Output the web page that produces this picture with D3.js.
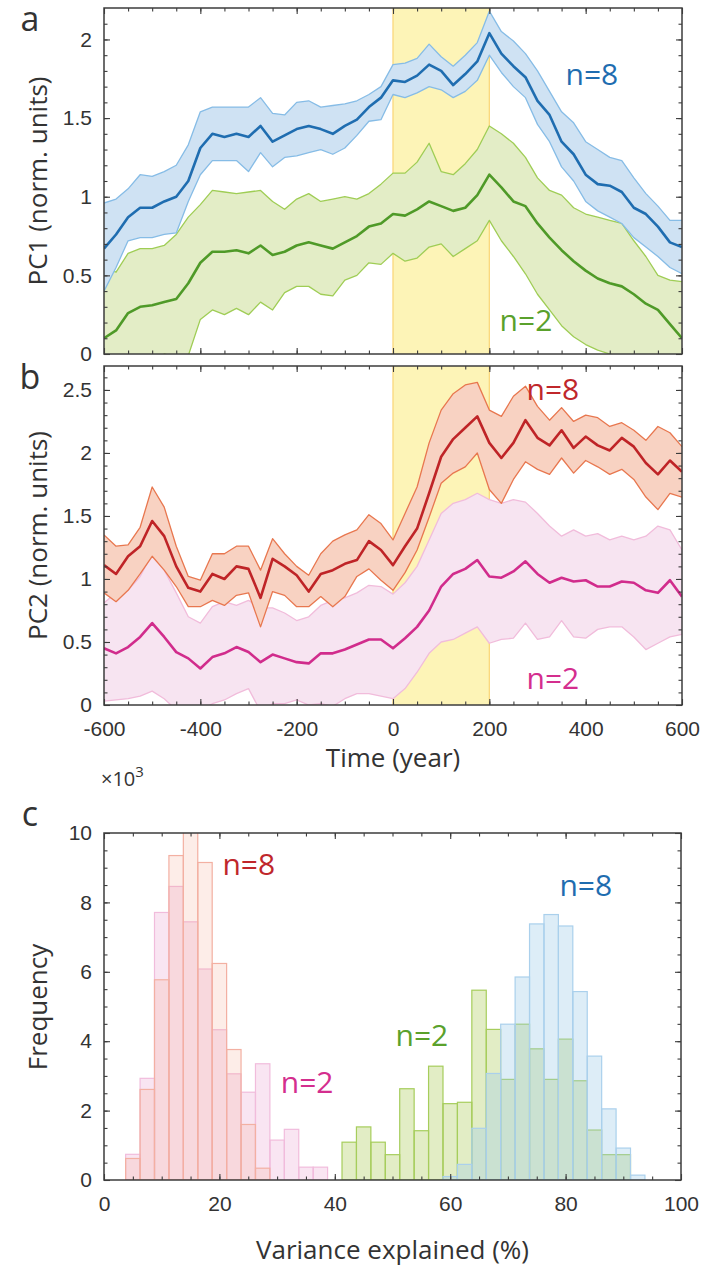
<!DOCTYPE html>
<html>
<head>
<meta charset="utf-8">
<script src="https://cdn.jsdelivr.net/npm/d3@7"></script>
<style>
  body { margin: 0; background: #fff; }
  svg { display: block; font-family: "Open Sans", "Noto Sans", sans-serif; }
  .mult { font-size: 20px; }
  .mult .sup { font-size: 15px; }
</style>
</head>
<body>
<script>
// sample times (year)
var years = [-600,-575,-550,-525,-500,-475,-450,-425,-400,-375,-350,-325,-300,-275,-250,-225,-200,-175,-150,-125,-100,-75,-50,-25,0,
  25,50,75,100,125,150,175,200,225,250,275,300,325,350,375,400,425,450,475,500,525,550,575,600];

// PC1, n=8
var pc1n8Mean = [0.67,0.76,0.87,0.93,0.93,0.97,1.00,1.10,1.31,1.40,1.38,1.40,1.38,1.45,1.35,1.39,1.43,1.45,1.43,1.40,1.45,1.49,1.57,1.63,1.74,
  1.73,1.77,1.84,1.80,1.71,1.78,1.86,2.04,1.91,1.83,1.76,1.61,1.52,1.35,1.27,1.14,1.08,1.07,1.03,0.93,0.89,0.81,0.71,0.68];
var pc1n8Upper = [0.96,0.985,1.05,1.14,1.13,1.16,1.20,1.33,1.54,1.57,1.57,1.57,1.57,1.63,1.53,1.52,1.60,1.61,1.57,1.58,1.59,1.61,1.65,1.70,1.84,
  1.85,1.88,1.97,1.89,1.83,1.90,1.98,2.18,2.05,1.99,1.91,1.80,1.67,1.54,1.47,1.35,1.30,1.25,1.23,1.12,1.02,0.94,0.85,0.85];
var pc1n8Lower = [0.40,0.55,0.72,0.74,0.74,0.76,0.77,0.97,1.14,1.23,1.23,1.23,1.16,1.28,1.19,1.25,1.26,1.28,1.30,1.27,1.31,1.39,1.48,1.49,1.65,
  1.63,1.66,1.70,1.68,1.63,1.67,1.74,1.90,1.79,1.70,1.63,1.46,1.35,1.19,1.10,0.97,0.91,0.87,0.83,0.74,0.68,0.62,0.55,0.51];

// PC1, n=2
var pc1n2Mean = [0.10,0.15,0.26,0.30,0.31,0.33,0.35,0.45,0.58,0.65,0.65,0.66,0.64,0.69,0.63,0.65,0.69,0.71,0.69,0.67,0.71,0.75,0.81,0.83,0.89,
  0.88,0.92,0.97,0.94,0.91,0.93,1.01,1.14,1.06,0.97,0.94,0.83,0.74,0.66,0.59,0.53,0.48,0.45,0.43,0.38,0.32,0.28,0.19,0.10];
var pc1n2Upper = [0.55,0.52,0.64,0.67,0.67,0.69,0.76,0.87,0.95,1.04,1.03,1.02,1.03,1.04,0.97,0.92,0.985,1.02,0.97,0.985,1.00,0.985,1.02,1.08,1.15,
  1.15,1.22,1.34,1.16,1.14,1.21,1.30,1.45,1.40,1.34,1.25,1.12,1.04,1.01,0.93,0.89,0.87,0.85,0.83,0.72,0.62,0.50,0.47,0.46];
var pc1n2Lower = [-0.35,-0.30,-0.22,-0.15,-0.10,0.00,-0.02,-0.01,0.22,0.28,0.25,0.29,0.25,0.33,0.28,0.39,0.43,0.43,0.38,0.37,0.47,0.50,0.58,0.57,0.64,
  0.59,0.61,0.68,0.70,0.62,0.67,0.72,0.85,0.72,0.62,0.51,0.38,0.28,0.18,0.11,0.06,0.025,0.0,-0.02,-0.05,-0.10,-0.15,-0.20,-0.25];

// PC2, n=8
var pc2n8Mean = [1.11,1.04,1.18,1.26,1.46,1.34,1.10,0.93,0.90,1.04,1.00,1.10,1.08,0.85,1.16,1.10,1.03,0.90,1.04,1.07,1.12,1.15,1.30,1.23,1.11,
  1.26,1.40,1.68,1.97,2.11,2.20,2.29,2.08,1.96,2.08,2.26,2.12,2.06,2.18,2.04,2.13,2.06,2.02,2.12,2.05,1.92,1.83,1.94,1.85];
var pc2n8Upper = [1.35,1.26,1.27,1.41,1.73,1.57,1.26,1.02,0.99,1.20,1.20,1.26,1.26,1.07,1.32,1.20,1.10,1.03,1.20,1.30,1.35,1.39,1.51,1.44,1.31,
  1.52,1.73,2.08,2.34,2.47,2.54,2.56,2.34,2.29,2.45,2.53,2.37,2.26,2.36,2.25,2.30,2.28,2.21,2.24,2.18,2.10,2.21,2.16,2.05];
var pc2n8Lower = [0.89,0.82,0.91,1.04,1.18,1.07,0.94,0.78,0.78,0.83,0.79,0.87,0.89,0.62,0.90,0.87,0.78,0.78,0.86,0.78,0.86,1.02,1.08,0.99,0.91,
  1.05,1.23,1.49,1.76,1.84,1.89,2.00,1.71,1.60,1.79,1.93,1.87,1.83,1.96,1.84,1.94,1.89,1.83,1.87,1.79,1.65,1.55,1.68,1.65];

// PC2, n=2
var pc2n2Mean = [0.45,0.41,0.46,0.54,0.65,0.54,0.42,0.37,0.29,0.38,0.41,0.46,0.42,0.34,0.40,0.37,0.34,0.33,0.41,0.41,0.44,0.48,0.52,0.52,0.45,
  0.53,0.62,0.75,0.94,1.04,1.08,1.15,1.02,1.01,1.06,1.14,1.04,0.97,1.01,0.98,0.99,0.94,0.94,0.98,0.97,0.91,0.89,0.99,0.86];
var pc2n2Upper = [0.81,0.89,0.91,1.02,1.20,1.07,0.89,0.70,0.65,0.78,0.82,0.79,0.83,0.77,0.77,0.73,0.67,0.70,0.79,0.83,0.85,0.89,0.95,0.94,0.88,
  0.97,1.10,1.31,1.52,1.60,1.63,1.68,1.63,1.60,1.63,1.61,1.52,1.42,1.34,1.39,1.34,1.36,1.31,1.34,1.31,1.34,1.42,1.39,1.23];
var pc2n2Lower = [0.03,0.04,0.05,0.07,0.11,0.05,-0.04,-0.04,-0.04,0.01,0.04,0.09,0.13,-0.05,0.01,0.01,0.04,0.00,0.01,-0.01,0.05,0.09,0.09,0.07,0.05,
  0.13,0.26,0.41,0.50,0.52,0.57,0.62,0.49,0.52,0.53,0.65,0.52,0.54,0.67,0.54,0.53,0.60,0.62,0.62,0.54,0.44,0.49,0.54,0.56];

var shadeYears = [0, 200];

// histograms (bin centres in %, counts in thousands)
var pc2Bins = [5,7.5,10,12.5,15,17.5,20,22.5,25,27.5,30,32.5,35,37.5];
var pc2n2Counts = [0.74,2.93,7.71,8.46,7.44,6.08,4.33,3.06,2.53,3.35,1.15,1.46,0.37,0.37];
var pc2n8Counts = [0.62,2.61,5.77,9.35,10.4,9.15,6.24,3.76,1.60,0.34,0,0,0,0];
var pc1Bins = [42.5,45,47.5,50,52.5,55,57.5,60,62.5,65,67.5,70,72.5,75,77.5,80,82.5,85,87.5,90,92.5];
var pc1n2Counts = [1.09,1.53,1.09,0.73,2.63,1.42,3.28,2.20,2.24,5.47,4.34,2.90,4.49,3.78,2.90,4.06,2.86,1.44,0.73,0.73,0];
var pc1n8Counts = [0,0,0,0,0,0,0,0.10,0.45,1.49,3.07,4.49,5.85,7.38,7.65,7.32,5.43,3.57,2.05,0.92,0.14];
var binWidth = 2.5;

var width = 702, height = 1269;
var axisColor = "#3c3c3c";
var textColor = "#333";
var tickFont = 21, labelFont = 26, noteFont = 30;

var svg = d3.select("body").append("svg")
  .attr("width", width)
  .attr("height", height);

var x = d3.scaleLinear().domain([-600, 600]).range([104, 682]);

// MATLAB-style labels: plain hyphen, no trailing zeros
function fmt(d) { return d3.format("~g")(d).replace("\u2212", "-"); }

function addClip(id, x0, x1, y0, y1) {
  svg.append("clipPath").attr("id", id)
    .append("rect").attr("x", x0).attr("y", y0).attr("width", x1 - x0).attr("height", y1 - y0);
}

function drawFrame(xs, ys, xMajor, xMinor, yMajor, yMinor, showXLabels) {
  var x0 = xs.range()[0], x1 = xs.range()[1];
  var y0 = ys.range()[1], y1 = ys.range()[0];
  var g = svg.append("g");

  // inward ticks on all four sides
  function tick(axis, scale, tx, ty, vals, size, labels, pad) {
    var a = axis(scale).tickValues(vals).tickSize(-size).tickPadding(pad || 12)
      .tickFormat(labels ? fmt : "");
    var ag = g.append("g").attr("transform", "translate(" + tx + "," + ty + ")").call(a);
    ag.select(".domain").remove();
    ag.selectAll("line").attr("stroke", axisColor).attr("stroke-width", 1.1);
    ag.selectAll("text").attr("fill", textColor).attr("font-size", tickFont);
  }
  tick(d3.axisLeft, ys, x0, 0, yMajor, 6, true);
  tick(d3.axisLeft, ys, x0, 0, yMinor, 3.5, false);
  tick(d3.axisRight, ys, x1, 0, yMajor, 6, false);
  tick(d3.axisRight, ys, x1, 0, yMinor, 3.5, false);
  tick(d3.axisBottom, xs, 0, y1, xMajor, 6, showXLabels, 16);
  tick(d3.axisBottom, xs, 0, y1, xMinor, 3.5, false);
  tick(d3.axisTop, xs, 0, y0, xMajor, 6, false);
  tick(d3.axisTop, xs, 0, y0, xMinor, 3.5, false);

  g.append("rect")
    .attr("x", x0).attr("y", y0)
    .attr("width", x1 - x0).attr("height", y1 - y0)
    .attr("fill", "none").attr("stroke", axisColor).attr("stroke-width", 1.5);
}

function drawTimePanel(opts) {
  var y = d3.scaleLinear().domain(opts.yDomain).range([opts.bottom, opts.top]);
  var clipId = opts.id + "-clip";
  addClip(clipId, 104, 682, opts.top, opts.bottom);
  var plot = svg.append("g").attr("clip-path", "url(#" + clipId + ")");

  // shaded interval
  plot.append("rect")
    .attr("x", x(shadeYears[0])).attr("y", opts.top)
    .attr("width", x(shadeYears[1]) - x(shadeYears[0]))
    .attr("height", opts.bottom - opts.top)
    .attr("fill", "#fdf4b7");
  shadeYears.forEach(function (t) {
    plot.append("line")
      .attr("x1", x(t)).attr("x2", x(t))
      .attr("y1", opts.top).attr("y2", opts.bottom)
      .attr("stroke", "#fbd87c").attr("stroke-width", 1.3);
  });

  var area = d3.area()
    .x(function (d, i) { return x(years[i]); })
    .y0(function (d) { return y(d[0]); })
    .y1(function (d) { return y(d[1]); });
  var line = d3.line()
    .x(function (d, i) { return x(years[i]); })
    .y(function (d) { return y(d); });

  opts.series.forEach(function (s) {
    var band = s.lower.map(function (v, i) { return [v, s.upper[i]]; });
    plot.append("path").datum(band)
      .attr("d", area)
      .attr("fill", s.bandFill);
    [s.lower, s.upper].forEach(function (edge) {
      plot.append("path").datum(edge)
        .attr("d", line)
        .attr("fill", "none").attr("stroke", s.edge).attr("stroke-width", 1.3)
        .attr("stroke-linejoin", "round");
    });
  });
  opts.series.forEach(function (s) {
    plot.append("path").datum(s.mean)
      .attr("d", line)
      .attr("fill", "none").attr("stroke", s.color).attr("stroke-width", 2.6)
      .attr("stroke-linejoin", "round");
  });

  drawFrame(x, y, [-600, -400, -200, 0, 200, 400, 600], d3.range(-550, 600, 50),
    opts.yMajor, opts.yMinor, opts.showXLabels);

  opts.labels.forEach(function (l) {
    svg.append("text")
      .attr("x", x(l.t)).attr("y", y(l.v)).attr("dy", "0.35em")
      .attr("text-anchor", "middle")
      .attr("font-size", noteFont).attr("fill", l.color)
      .text(l.text);
  });

  svg.append("text")
    .attr("transform", "translate(38," + ((opts.top + opts.bottom) / 2) + ") rotate(-90)")
    .attr("text-anchor", "middle").attr("dy", "0.35em")
    .attr("font-size", labelFont).attr("fill", textColor)
    .text(opts.yLabel);
  svg.append("text")
    .attr("x", 30).attr("y", opts.letterY)
    .attr("text-anchor", "middle")
    .attr("font-size", 34).attr("fill", textColor)
    .text(opts.letter);
}

// panel a
drawTimePanel({
  id: "a", top: 8, bottom: 354, yDomain: [0, 2.2],
  yMajor: [0, 0.5, 1, 1.5, 2], yMinor: d3.range(0.1, 2.2, 0.1),
  showXLabels: false,
  series: [
    { mean: pc1n2Mean, upper: pc1n2Upper, lower: pc1n2Lower, color: "#4f9a28", edge: "#9fcd55", bandFill: "#e3edc6" },
    { mean: pc1n8Mean, upper: pc1n8Upper, lower: pc1n8Lower, color: "#1f6db0", edge: "#86bce6", bandFill: "#cfe2f3" }
  ],
  labels: [
    { t: 413, v: 1.78, text: "n=8", color: "#1f6db0" },
    { t: 276, v: 0.215, text: "n=2", color: "#5aa12c" }
  ],
  yLabel: "PC1 (norm. units)", letter: "a", letterY: 31
});

// panel b
drawTimePanel({
  id: "b", top: 366, bottom: 705, yDomain: [0, 2.69],
  yMajor: [0, 0.5, 1, 1.5, 2, 2.5], yMinor: d3.range(0.1, 2.65, 0.1),
  showXLabels: true,
  series: [
    { mean: pc2n2Mean, upper: pc2n2Upper, lower: pc2n2Lower, color: "#d12c8c", edge: "#f1bcdb", bandFill: "#f7e4f1" },
    { mean: pc2n8Mean, upper: pc2n8Upper, lower: pc2n8Lower, color: "#bf2427", edge: "#e8774f", bandFill: "#f8d2c2" }
  ],
  labels: [
    { t: 332, v: 2.5, text: "n=8", color: "#c0272b" },
    { t: 332, v: 0.21, text: "n=2", color: "#d42e8e" }
  ],
  yLabel: "PC2 (norm. units)", letter: "b", letterY: 389
});

svg.append("text")
  .attr("x", x(0)).attr("y", 767)
  .attr("text-anchor", "middle").attr("font-size", labelFont).attr("fill", textColor)
  .text("Time (year)");

// panel c
var xc = d3.scaleLinear().domain([0, 100]).range([104, 681]);
var yc = d3.scaleLinear().domain([0, 10]).range([1180, 833]);
addClip("c-clip", 104, 681, 833, 1180);
var hist = svg.append("g").attr("clip-path", "url(#c-clip)");

function drawHist(bins, counts, fill, opacity, edge) {
  hist.append("g").selectAll("rect")
    .data(bins.map(function (b, i) { return { c: b, v: counts[i] }; }).filter(function (d) { return d.v > 0; }))
    .join("rect")
      .attr("x", function (d) { return xc(d.c - binWidth / 2); })
      .attr("width", function (d) { return xc(d.c + binWidth / 2) - xc(d.c - binWidth / 2); })
      .attr("y", function (d) { return yc(d.v); })
      .attr("height", function (d) { return yc(0) - yc(d.v); })
      .attr("fill", fill).attr("fill-opacity", opacity)
      .attr("stroke", edge).attr("stroke-width", 1.2);
}
drawHist(pc2Bins, pc2n2Counts, "#e8a2cf", 0.28, "#f1bcdc");
drawHist(pc2Bins, pc2n8Counts, "#f7a68a", 0.2, "#f3b0a2");
drawHist(pc1Bins, pc1n2Counts, "#a9ca55", 0.34, "#a6cd5c");
drawHist(pc1Bins, pc1n8Counts, "#9ecae9", 0.35, "#aad0ec");

drawFrame(xc, yc, [0, 20, 40, 60, 80, 100], d3.range(5, 100, 5),
  [0, 2, 4, 6, 8, 10], d3.range(1, 10, 1).concat(d3.range(0.5, 10, 1)), true);

var histLabels = [
  { x: 25.1, v: 9.1, text: "n=8", color: "#c0272b" },
  { x: 35.2, v: 2.82, text: "n=2", color: "#d42e8e" },
  { x: 55.1, v: 4.15, text: "n=2", color: "#5aa12c" },
  { x: 83.5, v: 8.5, text: "n=8", color: "#1f6db0" }
];
histLabels.forEach(function (l) {
  svg.append("text")
    .attr("x", xc(l.x)).attr("y", yc(l.v)).attr("dy", "0.35em")
    .attr("text-anchor", "middle").attr("font-size", noteFont).attr("fill", l.color)
    .text(l.text);
});

// exponent note above the y axis
var mult = svg.append("text").attr("class", "mult")
  .attr("x", 101).attr("y", 786).attr("fill", textColor);
mult.append("tspan").text("\u00d710");
mult.append("tspan").attr("class", "sup").attr("dy", -9).text("3");

svg.append("text")
  .attr("transform", "translate(38,1007) rotate(-90)")
  .attr("text-anchor", "middle").attr("dy", "0.35em")
  .attr("font-size", labelFont).attr("fill", textColor)
  .text("Frequency");
svg.append("text")
  .attr("x", 30).attr("y", 826)
  .attr("text-anchor", "middle").attr("font-size", 34).attr("fill", textColor)
  .text("c");
svg.append("text")
  .attr("x", xc(50)).attr("y", 1259)
  .attr("text-anchor", "middle").attr("font-size", labelFont).attr("fill", textColor)
  .text("Variance explained (%)");
</script>
</body>
</html>
